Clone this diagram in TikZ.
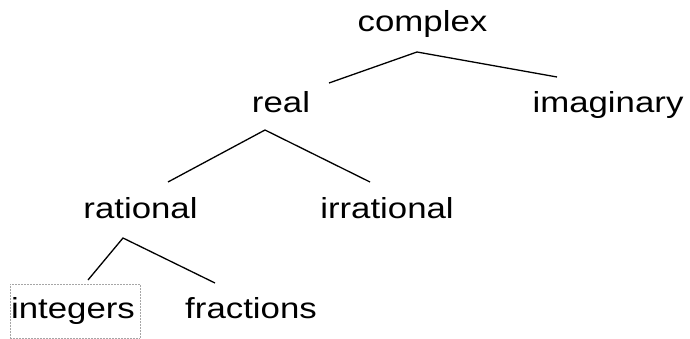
\documentclass[tikz,border=0pt]{standalone}
\usepackage{fontspec}
\setmainfont{Liberation Sans}
\usepackage{graphicx}
\usetikzlibrary{calc}
\newcommand{\wideword}[1]{\scalebox{1.2}[1]{#1}}

\begin{document}
\begin{tikzpicture}[x=1pt,y=-1pt,
    word/.style={font=\fontsize{29}{34}\selectfont, inner sep=0pt, anchor=base},
    branch/.style={line width=1.3pt, black},
    selbox/.style={densely dotted, gray!70, line width=0.5pt}]
  \useasboundingbox (0,0) rectangle (690,339);
  % words of the tree
  \node[word] (complex)    at (422.5,32) {\wideword{complex}};
  \node[word] (real)       at (281,113)  {\wideword{real}};
  \node[word] (imaginary)  at (608,113)  {\wideword{imaginary}};
  \node[word] (rational)   at (140.5,218) {\wideword{rational}};
  \node[word] (irrational) at (387,218)  {\wideword{irrational}};
  \node[word] (integers)   at (73,318)   {\wideword{integers}};
  \node[word] (fractions)  at (251,318)  {\wideword{fractions}};
  % fork points and branch ends
  \coordinate (complex-fork)   at (417,52);
  \coordinate (real-tip)       at (329,83);
  \coordinate (imaginary-tip)  at (557,77);
  \coordinate (real-fork)      at (265,130);
  \coordinate (rational-tip)   at (168,182);
  \coordinate (irrational-tip) at (370,182);
  \coordinate (rational-fork)  at (123,238);
  \coordinate (integers-tip)   at (88,280);
  \coordinate (fractions-tip)  at (215,283);
  \draw[branch] (real-tip) -- (complex-fork) -- (imaginary-tip);
  \draw[branch] (rational-tip) -- (real-fork) -- (irrational-tip);
  \draw[branch] (integers-tip) -- (rational-fork) -- (fractions-tip);
  % dotted frame round integers
  \draw[selbox] ($(integers.base west)+(-1,-34)$) rectangle ($(integers.base east)+(5,20)$);
\end{tikzpicture}
\end{document}
